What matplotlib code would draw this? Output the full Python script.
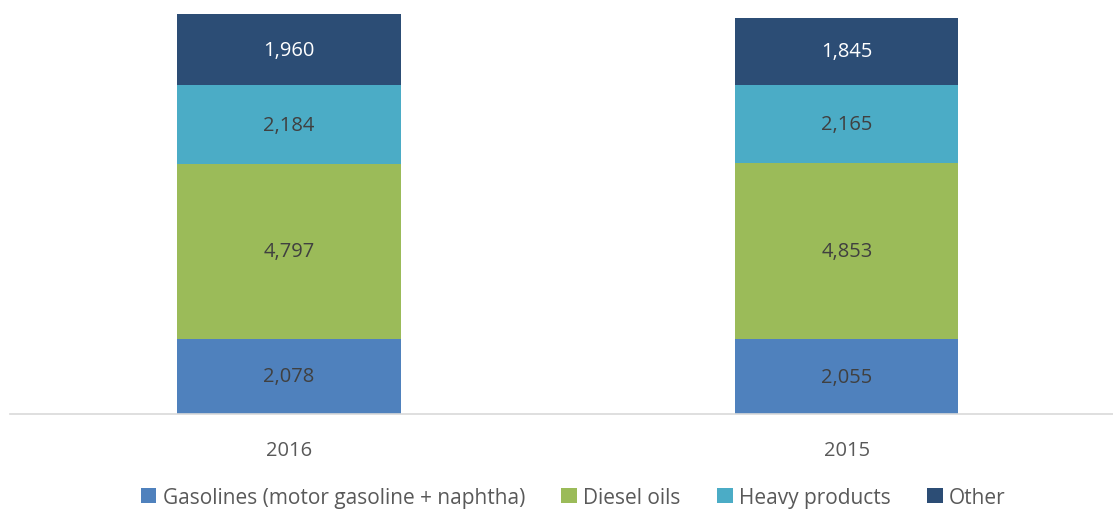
import numpy as np
import matplotlib.pyplot as plt

plt.rcParams['font.family'] = ['Open Sans', 'DejaVu Sans']

years = ['2016', '2015']
series = ['Gasolines (motor gasoline + naphtha)', 'Diesel oils', 'Heavy products', 'Other']
gasolines = [2078, 2055]
diesel = [4797, 4853]
heavy = [2184, 2165]
other = [1960, 1845]
colors = ['#4F81BD', '#9BBB59', '#4BACC6', '#2C4D75']
text_colors = ['#404040', '#404040', '#404040', 'white']

fig = plt.figure(figsize=(11.13, 5.10), dpi=100)
ax = fig.add_axes([10 / 1113, 95 / 510, 1103 / 1113, 400 / 510])

x = np.arange(len(years))
bottom = np.zeros(len(years))
handles = []
for vals, name, col, tcol in zip([gasolines, diesel, heavy, other], series, colors, text_colors):
    vals = np.array(vals)
    bars = ax.bar(x, vals, 0.4, bottom=bottom, color=col, label=name)
    for xi, b, v in zip(x, bottom, vals):
        ax.text(xi, b + v / 2, f'{v:,}', ha='center', va='center',
                fontsize=14.5, color=tcol)
    bottom += vals
    handles.append(bars)

ax.set_xlim(-0.5, 1.477)
ax.set_ylim(0, 11019)
ax.set_xticks(x)
ax.set_xticklabels(years, fontsize=14.5, color='#595959')
ax.tick_params(axis='x', length=0, pad=19)
ax.set_yticks([])
for s in ['top', 'right', 'left']:
    ax.spines[s].set_visible(False)
ax.spines['bottom'].set_color('#D9D9D9')
ax.spines['bottom'].set_linewidth(1.2)

fig.legend(handles=handles, loc='lower center', bbox_to_anchor=(0.515, -0.035),
           ncol=4, frameon=False, fontsize=15, handlelength=0.75, handleheight=0.75,
           handletextpad=0.3, columnspacing=1.75, labelcolor='#595959')

fig.savefig('out.png', dpi=100)
